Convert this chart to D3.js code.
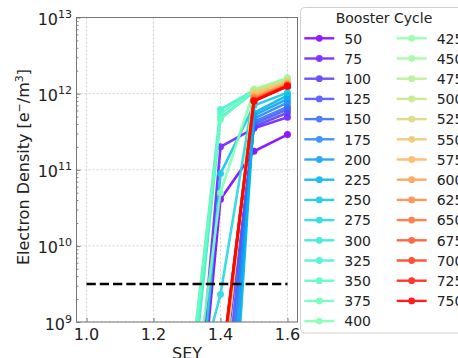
<!DOCTYPE html>
<html>
<head>
<meta charset="utf-8">
<script src="https://cdn.jsdelivr.net/npm/d3@7"></script>
<style>
  html, body { margin: 0; padding: 0; background: #fff; }
  svg { display: block; font-family: "DejaVu Sans", sans-serif; }
</style>
</head>
<body>
<svg id="chart" width="458" height="358"></svg>
<script>
// ---- data ----
const sey = [1.3, 1.4, 1.5, 1.6];
const cycles = [50, 75, 100, 125, 150, 175, 200, 225, 250, 275, 300, 325, 350, 375, 400,
                425, 450, 475, 500, 525, 550, 575, 600, 625, 650, 675, 700, 725, 750];
// electron density per cycle at each SEY value
const dens13 = [1e6, 2e6, 1e6, 3e5, 1e5, 3e4, 5e3, 1e3, 1e6, 5e7, 3e7, 8e7, 5e7, 1e8, 2e7,
                1e6, 1e6, 1e6, 1e6, 1e6, 1e6, 1e6, 1e6, 1e6, 1e6, 1e6, 1e6, 1e6, 1e6];
const dens14 = [4.1e10, 2.0e11, 1e8, 3e7, 1e7, 3e6, 5e5, 1e5, 8.9e10, 2.3e9, 4.8e11, 6.2e11, 5.5e11, 4.6e11, 5e10,
                1e8, 1.2e8, 1.5e8, 1.2e8, 1e8, 1e8, 1.5e8, 1.5e8, 1.8e8, 1.8e8, 2e8, 2e8, 2e8, 1.9e8];
const dens15 = [1.75e11, 3.5e11, 3.7e11, 4.0e11, 4.3e11, 4.7e11, 5.2e11, 5.6e11, 7e11, 1.05e12, 1.05e12, 1.1e12, 1.12e12, 1.1e12, 1.1e12,
                1.12e12, 1.15e12, 1.1e12, 1.08e12, 1.05e12, 1.0e12, 9.5e11, 9e11, 8.8e11, 8.5e11, 8.2e11, 8e11, 8e11, 8e11];
const dens16 = [2.9e11, 4.9e11, 5.6e11, 6.2e11, 6.7e11, 7.6e11, 8.5e11, 9.5e11, 1.03e12, 1.2e12, 1.45e12, 1.5e12, 1.55e12, 1.58e12, 1.6e12,
                1.6e12, 1.55e12, 1.5e12, 1.5e12, 1.45e12, 1.4e12, 1.38e12, 1.35e12, 1.32e12, 1.3e12, 1.28e12, 1.27e12, 1.26e12, 1.25e12];
const thresholdSey = [1.0, 1.6];
const thresholdValue = 3.15e9;
const xTicks = [1.0, 1.2, 1.4, 1.6];
const xTickLabels = ["1.0", "1.2", "1.4", "1.6"];
const yTickExps = [9, 10, 11, 12, 13];
const legendTitle = "Booster Cycle";

// ---- layout ----
const svg = d3.select("#chart");
const L = 76.5, R = 297.5, T = 17.5, B = 322;
const x = d3.scaleLinear().domain([0.97, 1.63]).range([L, R]);
const y = d3.scaleLog().domain([1e9, 1e13]).range([B, T]);

function rainbow(t) {
  const c = v => Math.max(0, Math.min(1, v));
  const r = c(Math.abs(2 * t - 0.5));
  const g = c(Math.sin(t * Math.PI));
  const b = c(Math.cos(t * Math.PI / 2));
  return d3.rgb(r * 255, g * 255, b * 255).formatHex();
}
const color = d3.scaleSequential(rainbow).domain([0, cycles.length - 1]);

svg.append("defs").append("clipPath").attr("id", "plotclip")
  .append("rect").attr("x", L).attr("y", T).attr("width", R - L).attr("height", B - T);

// grid
const grid = svg.append("g");
grid.selectAll("line.gx").data(xTicks).join("line")
  .attr("x1", d => x(d)).attr("x2", d => x(d)).attr("y1", T).attr("y2", B)
  .attr("stroke", "#c4c4c4").attr("stroke-width", 0.8).attr("stroke-dasharray", "2,2");
grid.selectAll("line.gy").data(yTickExps).join("line")
  .attr("x1", L).attr("x2", R).attr("y1", d => y(Math.pow(10, d))).attr("y2", d => y(Math.pow(10, d)))
  .attr("stroke", "#c4c4c4").attr("stroke-width", 0.8).attr("stroke-dasharray", "2,2");

// axes (ticks inward)
const xAxis = d3.axisBottom(x).tickValues(xTicks).tickSize(-4).tickFormat("");
svg.append("g").attr("transform", `translate(0,${B})`).call(xAxis)
  .call(g => g.select(".domain").remove())
  .call(g => g.selectAll("line").attr("stroke", "#777"));
const minorVals = [];
for (let e = 9; e < 13; e++) for (let m = 2; m <= 9; m++) minorVals.push(m * Math.pow(10, e));
svg.append("g").attr("transform", `translate(${L},0)`)
  .call(d3.axisLeft(y).tickValues(minorVals).tickSize(-2).tickFormat(""))
  .call(g => g.select(".domain").remove())
  .call(g => g.selectAll("line").attr("stroke", "#888"));
svg.append("g").attr("transform", `translate(${L},0)`)
  .call(d3.axisLeft(y).tickValues(yTickExps.map(e => Math.pow(10, e))).tickSize(-4).tickFormat(""))
  .call(g => g.select(".domain").remove())
  .call(g => g.selectAll("line").attr("stroke", "#777"));

// x tick labels
svg.append("g").selectAll("text").data(xTicks).join("text")
  .attr("x", d => x(d)).attr("y", 339.5).attr("text-anchor", "middle")
  .attr("font-size", 16).attr("fill", "#222").text((d, i) => xTickLabels[i]);
// y tick labels
const yl = svg.append("g").selectAll("text").data(yTickExps).join("text")
  .attr("x", 72).attr("y", d => y(Math.pow(10, d)) + 7.5).attr("text-anchor", "end")
  .attr("font-size", 16).attr("fill", "#222");
yl.append("tspan").text("10");
yl.append("tspan").attr("dy", -7).attr("font-size", 11).text(d => d);

// axis labels
svg.append("text").attr("x", (x(1.0) + x(1.6)) / 2).attr("y", 358.5).attr("text-anchor", "middle")
  .attr("font-size", 16).attr("fill", "#222").text("SEY");
const ylab = svg.append("text").attr("transform", "translate(29,167) rotate(-90)")
  .attr("text-anchor", "middle").attr("font-size", 16).attr("fill", "#222");
ylab.append("tspan").text("Electron Density [e");
ylab.append("tspan").attr("dy", -6).attr("font-size", 11).text("\u2212");
ylab.append("tspan").attr("dy", 6).text("/m");
ylab.append("tspan").attr("dy", -6).attr("font-size", 11).text("3");
ylab.append("tspan").attr("dy", 6).text("]");

// series
const series = cycles.map((c, i) => ({
  cycle: c, i,
  pts: sey.map((s, k) => ({ s, v: [dens13, dens14, dens15, dens16][k][i] }))
}));
const plot = svg.append("g").attr("clip-path", "url(#plotclip)");
const line = d3.line().x(d => x(d.s)).y(d => y(d.v));
series.forEach(sr => {
  const g = plot.append("g").attr("opacity", 0.88);
  g.append("path").datum(sr.pts).attr("d", line).attr("fill", "none")
    .attr("stroke", color(sr.i)).attr("stroke-width", 2.6);
  g.selectAll("circle").data(sr.pts.filter(p => p.v >= 1e8)).join("circle")
    .attr("cx", d => x(d.s)).attr("cy", d => y(d.v)).attr("r", 3.5).attr("fill", color(sr.i));
});

// threshold dashed line
plot.append("line")
  .attr("x1", x(thresholdSey[0])).attr("x2", x(thresholdSey[1]))
  .attr("y1", y(thresholdValue)).attr("y2", y(thresholdValue))
  .attr("stroke", "#000").attr("stroke-width", 2.5).attr("stroke-dasharray", "9.25,4");

// frame
svg.append("rect").attr("x", L).attr("y", T).attr("width", R - L).attr("height", B - T)
  .attr("fill", "none").attr("stroke", "#777").attr("stroke-width", 1);

// legend
const lg = svg.append("g");
lg.append("rect").attr("x", 300.5).attr("y", 7.5).attr("width", 175).attr("height", 325.5)
  .attr("rx", 4).attr("fill", "#fff").attr("fill-opacity", 0.85).attr("stroke", "#d0d0d0");
lg.append("text").attr("x", 384).attr("y", 23).attr("text-anchor", "middle")
  .attr("font-size", 14).attr("fill", "#222").text(legendTitle);
series.forEach(sr => {
  const col = sr.i < 15 ? 0 : 1;
  const row = col === 0 ? sr.i : sr.i - 15;
  const yy = 38.3 + row * 20.2;
  const x0 = col === 0 ? 304.3 : 396.7;
  const e = lg.append("g").attr("opacity", 0.88);
  e.append("line").attr("x1", x0).attr("x2", x0 + 30).attr("y1", yy).attr("y2", yy)
    .attr("stroke", color(sr.i)).attr("stroke-width", 2.4);
  e.append("circle").attr("cx", x0 + 15).attr("cy", yy).attr("r", 3.4).attr("fill", color(sr.i));
  lg.append("text").attr("x", x0 + 40).attr("y", yy + 5.2).attr("font-size", 14)
    .attr("fill", "#222").text(sr.cycle);
});
</script>
</body>
</html>
